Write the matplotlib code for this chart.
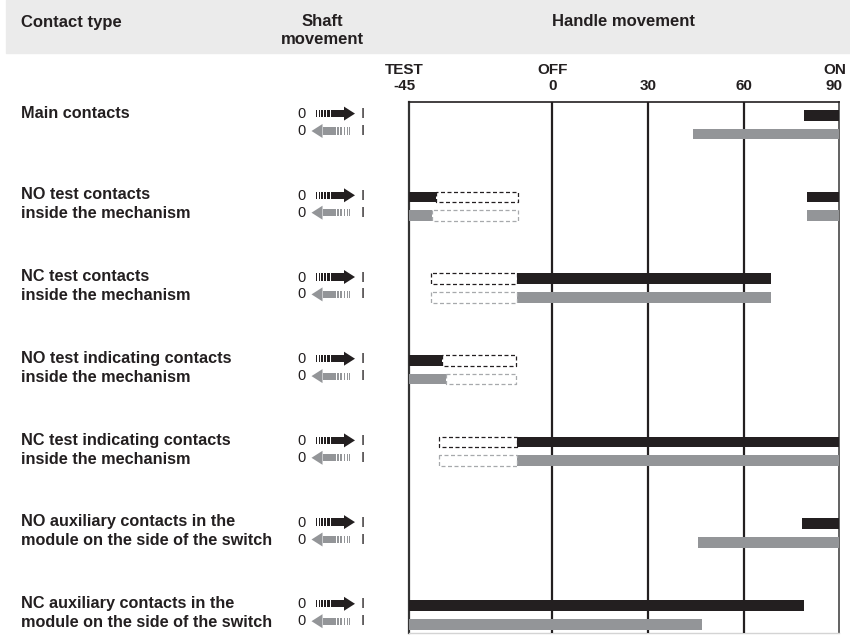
import matplotlib
matplotlib.use("Agg")
import matplotlib.pyplot as plt
from matplotlib import transforms
from matplotlib.patches import Rectangle, Polygon

plt.rcParams['font.family'] = ['Liberation Sans', 'DejaVu Sans']

W, H = 850, 635
BLACK = '#231f20'
GREY = '#939598'
GREY_EDGE = '#a7a9ac'

contact_types = [
    ["Main contacts"],
    ["NO test contacts", "inside the mechanism"],
    ["NC test contacts", "inside the mechanism"],
    ["NO test indicating contacts", "inside the mechanism"],
    ["NC test indicating contacts", "inside the mechanism"],
    ["NO auxiliary contacts in the", "module on the side of the switch"],
    ["NC auxiliary contacts in the", "module on the side of the switch"],
]

tick_vals = [-45, 0, 30, 60, 90]
tick_names = ['TEST', 'OFF', '', '', 'ON']

# handle angle ranges (start, end) where the contact is closed
# fwd = shaft moving 0 -> I, back = shaft moving I -> 0
fwd_solid = [
    [(79, 90)],
    [(-45, -36.5), (80, 90)],
    [(-11, 68.5)],
    [(-45, -34.5)],
    [(-11, 90)],
    [(78.3, 90)],
    [(-45, 79)],
]
fwd_dashed = [
    [],
    [(-36.5, -10.8)],
    [(-38, -11)],
    [(-34.5, -11.5)],
    [(-35.5, -11)],
    [],
    [],
]
back_solid = [
    [(44, 90)],
    [(-45, -37.7), (80, 90)],
    [(-11, 68.5)],
    [(-45, -33.4)],
    [(-11, 90)],
    [(45.6, 90)],
    [(-45, 47)],
]
back_dashed = [
    [],
    [(-37.7, -10.8)],
    [(-38, -11)],
    [(-33.4, -11.5)],
    [(-35.5, -11)],
    [],
    [],
]

fig = plt.figure(figsize=(8.5, 6.35), dpi=100)

# grey header band
fig.patches.append(Rectangle((6 / W, 1 - 53 / H), 1 - 6 / W, 53 / H,
                             transform=fig.transFigure, color='#ebebeb', zorder=0))
hdr = dict(fontsize=12, fontweight='bold', color=BLACK, va='center')
fig.text(21 / W, 1 - 22 / H, "Contact type", ha='left', **hdr)
fig.text(322 / W, 1 - 22 / H, "Shaft", ha='center', **hdr)
fig.text(322 / W, 1 - 40 / H, "movement", ha='center', **hdr)
fig.text(623 / W, 1 - 22 / H, "Handle movement", ha='center', **hdr)

left_px, right_px, top_px, bot_px = 408.8, 839.3, 101.7, 633
ax = fig.add_axes([left_px / W, 1 - bot_px / H,
                   (right_px - left_px) / W, (bot_px - top_px) / H])
ax.set_xlim(-45, 90)
row_px, row_gap, back_off = 115.3, 81.7, 18.7 / 81.7
ax.set_ylim((bot_px - row_px) / row_gap, (top_px - row_px) / row_gap)
ax.set_xticks([])
ax.set_yticks([])

ax.spines['top'].set_color(BLACK)
ax.spines['top'].set_linewidth(1.2)
ax.spines['left'].set_color('#333333')
ax.spines['left'].set_linewidth(1.6)
ax.spines['right'].set_color('#555555')
ax.spines['right'].set_linewidth(1.3)
ax.spines['bottom'].set_color('#d4d4d4')
ax.spines['bottom'].set_linewidth(1.0)
for v in tick_vals[1:-1]:
    ax.axvline(v, color=BLACK, lw=1.6, zorder=3)

bar_h = 0.13
for i in range(len(contact_types)):
    yb = i + back_off
    ax.broken_barh([(a, b - a) for a, b in fwd_solid[i]], (i - bar_h / 2, bar_h),
                   facecolors=BLACK, edgecolors='none', zorder=4)
    ax.broken_barh([(a, b - a) for a, b in back_solid[i]], (yb - bar_h / 2, bar_h),
                   facecolors=GREY, edgecolors='none', zorder=4)
    if fwd_dashed[i]:
        ax.broken_barh([(a, b - a) for a, b in fwd_dashed[i]], (i - bar_h / 2, bar_h),
                       facecolors='none', edgecolors=BLACK, linewidth=0.9,
                       linestyles=[(0, (3.2, 2.0))], zorder=4)
    if back_dashed[i]:
        ax.broken_barh([(a, b - a) for a, b in back_dashed[i]], (yb - bar_h / 2, bar_h),
                       facecolors='none', edgecolors=GREY_EDGE, linewidth=0.9,
                       linestyles=[(0, (3.2, 2.0))], zorder=4)

# angle labels above the frame
for v, name in zip(tick_vals, tick_names):
    dx = -3 if v == -45 else (-3.5 if v == 90 else 0)
    for txt, ypx in ((name, 70), (str(v), 86)):
        if txt:
            ax.annotate(txt, xy=(v, H - ypx), xycoords=('data', 'figure pixels'),
                        xytext=(dx, 0), textcoords='offset points',
                        ha='center', va='center', fontsize=11,
                        fontweight='bold', color=BLACK, annotation_clip=False)

# contact labels, one line per shaft direction
lab_tr = transforms.blended_transform_factory(fig.transFigure, ax.transData)
for i, lines in enumerate(contact_types):
    for k, line in enumerate(lines):
        fig.text(21 / W, i + 0.03 + k * 0.233, line, transform=lab_tr,
                 fontsize=11.7, fontweight='bold', color=BLACK,
                 ha='left', va='baseline')


def shaft_arrow(y_px, right, color):
    """Striped arrow for shaft movement, drawn in pixel units."""
    def P(x, y):
        return (x / W, 1 - y / H)
    tip = 355 if right else 311.5
    s = -1 if right else 1
    hh, bh = 7.0, 3.6
    parts = []
    parts.append(Polygon([P(tip, y_px), P(tip + s * 11, y_px - hh),
                          P(tip + s * 11, y_px + hh)], closed=True))
    d0, d1 = 11, 24
    parts.append(Polygon([P(tip + s * d0, y_px - bh), P(tip + s * d1, y_px - bh),
                          P(tip + s * d1, y_px + bh), P(tip + s * d0, y_px + bh)]))
    d = d1
    for w, g in zip([2.6, 2.0, 1.5, 1.2, 1.0], [1.1, 1.2, 1.3, 1.4, 1.5]):
        d += g
        parts.append(Polygon([P(tip + s * d, y_px - bh), P(tip + s * (d + w), y_px - bh),
                              P(tip + s * (d + w), y_px + bh), P(tip + s * d, y_px + bh)]))
        d += w
    for p in parts:
        p.set_transform(fig.transFigure)
        p.set_facecolor(color)
        p.set_edgecolor('none')
        fig.patches.append(p)


sym = dict(fontsize=10.5, color=BLACK, va='baseline')
for i in range(len(contact_types)):
    yf = row_px + i * row_gap
    yg = yf + 18.7
    fig.text(297.5 / W, 1 - (yf + 3) / H, "0", ha='left', **sym)
    fig.text(362.7 / W, 1 - (yf + 3) / H, "I", ha='center', **sym)
    fig.text(297.5 / W, 1 - (yg + 1) / H, "0", ha='left', **sym)
    fig.text(362.7 / W, 1 - (yg + 1) / H, "I", ha='center', **sym)
    shaft_arrow(yf - 1.7, True, BLACK)
    shaft_arrow(yg - 3, False, GREY)

fig.savefig("out.png", dpi=100)
